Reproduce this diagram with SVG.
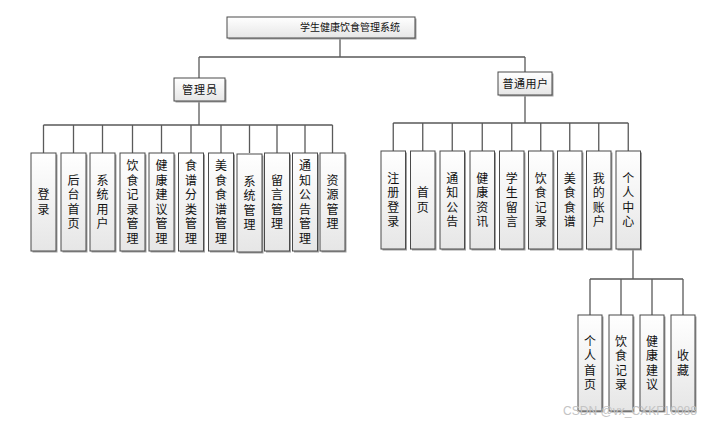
<svg xmlns="http://www.w3.org/2000/svg" width="710" height="422" viewBox="0 0 710 422">
<defs>
<linearGradient id="g" x1="0" y1="0" x2="0" y2="1">
<stop offset="0" stop-color="#ffffff"/>
<stop offset="1" stop-color="#e6e6e6"/>
</linearGradient>
<style>
.sh{fill:#a0a0a0}
.bx{fill:url(#g);stroke:#4a4a4a;stroke-width:1}
.t{font-family:"Noto Sans CJK SC","Noto Sans",sans-serif;font-size:12px;fill:#111;text-anchor:middle}
.v{writing-mode:vertical-rl;letter-spacing:2.5px}
.h{font-size:11px;letter-spacing:1px}
.c{fill:none;stroke:#5a5a5a;stroke-width:1.3}
.wm{font-family:"Liberation Sans",Arial,sans-serif;font-size:12px;fill:#c4c4c4}
</style>
</defs>
<rect width="710" height="422" fill="#ffffff"/>
<g id="connectors">
<path class="c" d="M340 38V57M199 57H525M199 57V78M525 57V72"/>
<path class="c" d="M199 101V125M43.5 125H332.5M43.5 125V153M73.5 125V153M102.5 125V153M132.5 125V153M161.5 125V153M191 125V153M221 125V153M249.5 125V153M277 125V153M305 125V153M332.5 125V153"/>
<path class="c" d="M525 95V123M393.25 123H628.25M393.25 123V151M422.75 123V151M452.25 123V151M482.25 123V151M511.75 123V151M540.75 123V151M569.75 123V151M598.75 123V151M628.25 123V151"/>
<path class="c" d="M633 249V279M590 279H683M590 279V315M621 279V315M652 279V315M683 279V315"/>
</g>
<g id="root"><rect class="sh" x="228.5" y="18.5" width="188" height="21"/><rect class="bx" x="227" y="17" width="188" height="21"/><text class="t" style="font-size:10px" x="350" y="31">学生健康饮食管理系统</text></g>
<g id="admin"><rect class="sh" x="175.5" y="79.5" width="51" height="23"/><rect class="bx" x="174" y="78" width="51" height="23"/><text class="t h" x="200" y="93.5">管理员</text></g>
<g id="user"><rect class="sh" x="499.5" y="73.5" width="54" height="23"/><rect class="bx" x="498" y="72" width="54" height="23"/><text class="t h" x="525.5" y="87.5" style="letter-spacing:0.5px">普通用户</text></g>

<g id="a1"><rect class="sh" x="32.5" y="154.5" width="25" height="98"/><rect class="bx" x="31" y="153" width="25" height="98"/><text class="t v" x="43.5" y="203.25">登录</text></g>
<g id="a2"><rect class="sh" x="62.5" y="154.5" width="25" height="98"/><rect class="bx" x="61" y="153" width="25" height="98"/><text class="t v" x="73.5" y="203.25">后台首页</text></g>
<g id="a3"><rect class="sh" x="91.5" y="154.5" width="25" height="98"/><rect class="bx" x="90" y="153" width="25" height="98"/><text class="t v" x="102.5" y="203.25">系统用户</text></g>
<g id="a4"><rect class="sh" x="121.5" y="154.5" width="25" height="98"/><rect class="bx" x="120" y="153" width="25" height="98"/><text class="t v" x="132.5" y="203.25">饮食记录管理</text></g>
<g id="a5"><rect class="sh" x="150.5" y="154.5" width="25" height="98"/><rect class="bx" x="149" y="153" width="25" height="98"/><text class="t v" x="161.5" y="203.25">健康建议管理</text></g>
<g id="a6"><rect class="sh" x="180" y="154.5" width="25" height="98"/><rect class="bx" x="178.5" y="153" width="25" height="98"/><text class="t v" x="191" y="203.25">食谱分类管理</text></g>
<g id="a7"><rect class="sh" x="210" y="154.5" width="25" height="98"/><rect class="bx" x="208.5" y="153" width="25" height="98"/><text class="t v" x="221" y="203.25">美食食谱管理</text></g>
<g id="a8"><rect class="sh" x="238.5" y="155.5" width="25" height="98"/><rect class="bx" x="237" y="154" width="25" height="98"/><text class="t v" x="249.5" y="204.25">系统管理</text></g>
<g id="a9"><rect class="sh" x="266" y="154.5" width="25" height="98"/><rect class="bx" x="264.5" y="153" width="25" height="98"/><text class="t v" x="277" y="203.25">留言管理</text></g>
<g id="a10"><rect class="sh" x="294" y="154.5" width="25" height="98"/><rect class="bx" x="292.5" y="153" width="25" height="98"/><text class="t v" x="305" y="203.25">通知公告管理</text></g>
<g id="a11"><rect class="sh" x="321.5" y="154.5" width="25" height="98"/><rect class="bx" x="320" y="153" width="25" height="98"/><text class="t v" x="332.5" y="203.25">资源管理</text></g>

<g id="u1"><rect class="sh" x="382.5" y="152.5" width="24.5" height="98"/><rect class="bx" x="381" y="151" width="24.5" height="98"/><text class="t v" x="393.25" y="201.25">注册登录</text></g>
<g id="u2"><rect class="sh" x="412" y="152.5" width="24.5" height="98"/><rect class="bx" x="410.5" y="151" width="24.5" height="98"/><text class="t v" x="422.75" y="201.25">首页</text></g>
<g id="u3"><rect class="sh" x="441.5" y="152.5" width="24.5" height="98"/><rect class="bx" x="440" y="151" width="24.5" height="98"/><text class="t v" x="452.25" y="201.25">通知公告</text></g>
<g id="u4"><rect class="sh" x="471.5" y="152.5" width="24.5" height="98"/><rect class="bx" x="470" y="151" width="24.5" height="98"/><text class="t v" x="482.25" y="201.25">健康资讯</text></g>
<g id="u5"><rect class="sh" x="501" y="152.5" width="24.5" height="98"/><rect class="bx" x="499.5" y="151" width="24.5" height="98"/><text class="t v" x="511.75" y="201.25">学生留言</text></g>
<g id="u6"><rect class="sh" x="530" y="152.5" width="24.5" height="98"/><rect class="bx" x="528.5" y="151" width="24.5" height="98"/><text class="t v" x="540.75" y="201.25">饮食记录</text></g>
<g id="u7"><rect class="sh" x="559" y="152.5" width="24.5" height="98"/><rect class="bx" x="557.5" y="151" width="24.5" height="98"/><text class="t v" x="569.75" y="201.25">美食食谱</text></g>
<g id="u8"><rect class="sh" x="588" y="152.5" width="24.5" height="98"/><rect class="bx" x="586.5" y="151" width="24.5" height="98"/><text class="t v" x="598.75" y="201.25">我的账户</text></g>
<g id="u9"><rect class="sh" x="617.5" y="152.5" width="24.5" height="98"/><rect class="bx" x="616" y="151" width="24.5" height="98"/><text class="t v" x="628.25" y="201.25">个人中心</text></g>

<g id="s1"><rect class="sh" x="579.5" y="316.5" width="24" height="96"/><rect class="bx" x="578" y="315" width="24" height="96"/><text class="t v" x="590" y="364.25">个人首页</text></g>
<g id="s2"><rect class="sh" x="610.5" y="316.5" width="24" height="96"/><rect class="bx" x="609" y="315" width="24" height="96"/><text class="t v" x="621" y="364.25">饮食记录</text></g>
<g id="s3"><rect class="sh" x="641.5" y="316.5" width="24" height="96"/><rect class="bx" x="640" y="315" width="24" height="96"/><text class="t v" x="652" y="364.25">健康建议</text></g>
<g id="s4"><rect class="sh" x="672.5" y="316.5" width="24" height="96"/><rect class="bx" x="671" y="315" width="24" height="96"/><text class="t v" x="683" y="364.25">收藏</text></g>

<text class="wm" x="563" y="415" textLength="134" lengthAdjust="spacingAndGlyphs">CSDN @vx_CXKF10088</text>
</svg>
